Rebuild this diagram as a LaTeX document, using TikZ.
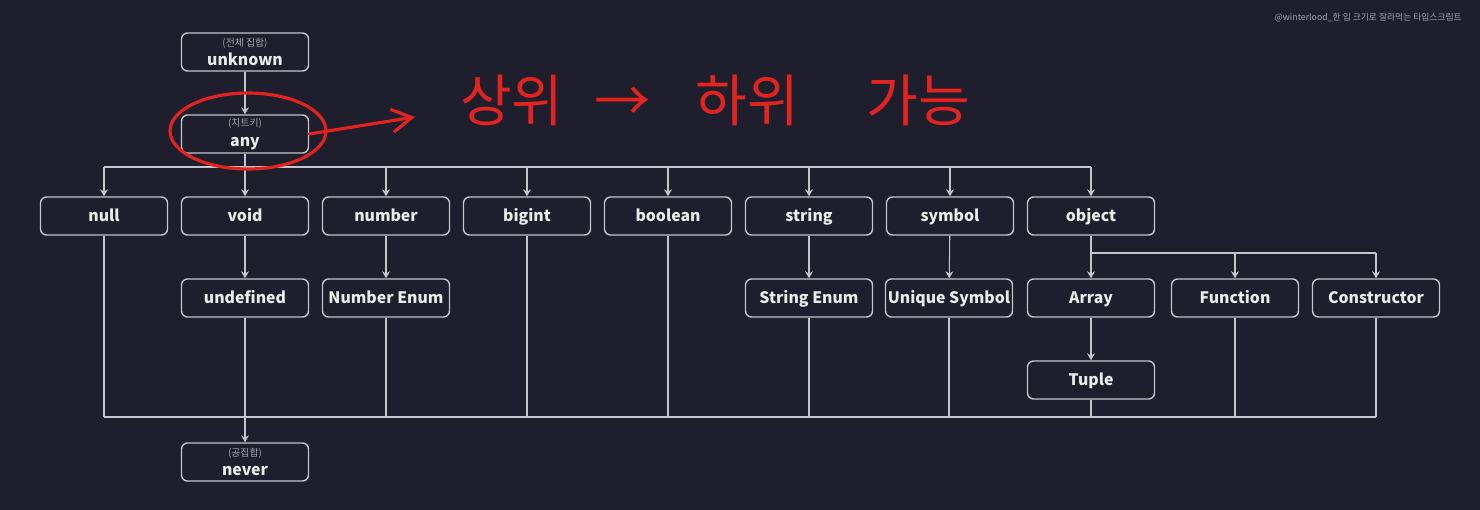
\documentclass[tikz,border=0pt]{standalone}
\usepackage{fontspec}
\setmainfont{Noto Sans CJK KR}
\usetikzlibrary{arrows.meta, positioning, calc}
\definecolor{BgNavy}{HTML}{1E1E2C}
\definecolor{LineGray}{HTML}{C4C4CA}
\definecolor{SubGray}{HTML}{A4A4AE}
\definecolor{MarkRed}{HTML}{E3231F}
\tikzset{
  typebox/.style={draw=LineGray, line width=0.8pt, rounded corners=0.12cm, fill=BgNavy,
    text=white!92!black, font=\bfseries\fontsize{9}{11}\selectfont,
    minimum width=2.54cm, minimum height=0.76cm, inner sep=1pt, align=center,
    text height=1.6ex, text depth=0.45ex},
  setbox/.style={typebox, text height=, text depth=},
  link/.style={LineGray, line width=0.6pt},
}
\newcommand{\subtag}[1]{{\mdseries\fontsize{5.6}{6}\selectfont\color{SubGray}#1}}

\begin{document}
\begin{tikzpicture}[>={Stealth[length=4pt,width=4.5pt]}, x=0.02cm, y=-0.02cm]
    % Background
    \fill [BgNavy] (0,0) rectangle (1480,510);
    \node [SubGray, anchor=east, font=\fontsize{5}{6}\selectfont] (credit) at (1468,18) {@winterlood\_한 입 크기로 잘라먹는 타입스크립트};

    % Top of the hierarchy
    \node [setbox] (unknown) at (245,52) {\subtag{(전체 집합)}\\[0pt]unknown};
    \node [setbox] (any) at (245,134) {\subtag{(치트키)}\\[0pt]any};

    % First level
    \node [typebox] (null) at (104,216) {null};
    \node [typebox] (void) at (245,216) {void};
    \node [typebox] (number) at (386,216) {number};
    \node [typebox] (bigint) at (527,216) {bigint};
    \node [typebox] (boolean) at (668,216) {boolean};
    \node [typebox] (string) at (809,216) {string};
    \node [typebox] (symbol) at (950,216) {symbol};
    \node [typebox] (object) at (1091,216) {object};

    % Second level
    \node [typebox] (undefined) at (245,298) {undefined};
    \node [typebox] (numenum) at (386,298) {Number Enum};
    \node [typebox] (strenum) at (809,298) {String Enum};
    \node [typebox] (unisym) at (949,298) {Unique Symbol};
    \node [typebox] (array) at (1091,298) {Array};
    \node [typebox] (function) at (1235,298) {Function};
    \node [typebox] (constructor) at (1376,298) {Constructor};
    \node [typebox] (tuple) at (1091,380) {Tuple};

    % Bottom type
    \node [setbox] (never) at (245,462) {\subtag{(공집합)}\\[0pt]never};

    % Bus lines
    \coordinate (hub) at (245,167);
    \coordinate (objhub) at (1091,253);
    \coordinate (sink) at (245,417);

    % unknown -> any -> first level
    \draw [->, link] (unknown) -- (any);
    \draw [link] (any) -- (hub);
    \draw [link] (null |- hub) -- (object |- hub);
    \draw [->, link] (null |- hub) -- (null);
    \draw [->, link] (hub) -- (void);
    \draw [->, link] (number |- hub) -- (number);
    \draw [->, link] (bigint |- hub) -- (bigint);
    \draw [->, link] (boolean |- hub) -- (boolean);
    \draw [->, link] (string |- hub) -- (string);
    \draw [->, link] (symbol |- hub) -- (symbol);
    \draw [->, link] (object |- hub) -- (object);

    % First level -> second level
    \draw [->, link] (void) -- (undefined);
    \draw [->, link] (number) -- (numenum);
    \draw [->, link] (string) -- (strenum);
    \draw [->, link] (symbol) -- (unisym);
    \draw [link] (object) -- (objhub);
    \draw [link] (objhub) -- (constructor |- objhub);
    \draw [->, link] (objhub) -- (array);
    \draw [->, link] (function |- objhub) -- (function);
    \draw [->, link] (constructor |- objhub) -- (constructor);
    \draw [->, link] (array) -- (tuple);

    % Everything runs down to never
    \draw [link] (null |- sink) -- (constructor |- sink);
    \draw [link] (null) -- (null |- sink);
    \draw [link] (numenum) -- (numenum |- sink);
    \draw [link] (bigint) -- (bigint |- sink);
    \draw [link] (boolean) -- (boolean |- sink);
    \draw [link] (strenum) -- (strenum |- sink);
    \draw [link] (unisym) -- (unisym |- sink);
    \draw [link] (tuple) -- (tuple |- sink);
    \draw [link] (function) -- (function |- sink);
    \draw [link] (constructor) -- (constructor |- sink);
    \draw [->, link] (undefined) -- (never);

    % Red handwritten note
    \draw [MarkRed, line width=1.8pt] (248,131) ellipse [x radius=1.56cm, y radius=0.76cm];
    \coordinate (noteend) at (415,117);
    \draw [MarkRed, line width=1.8pt, line cap=round, -{Straight Barb[length=0.4cm, width=0.46cm]}] (any.east) -- (noteend);
    \node [MarkRed, font=\fontsize{32}{34}\selectfont] (note) at (715,100) {상위\hspace{0.55em}→\hspace{0.8em}하위\hspace{1.2em}가능};
\end{tikzpicture}
\end{document}
